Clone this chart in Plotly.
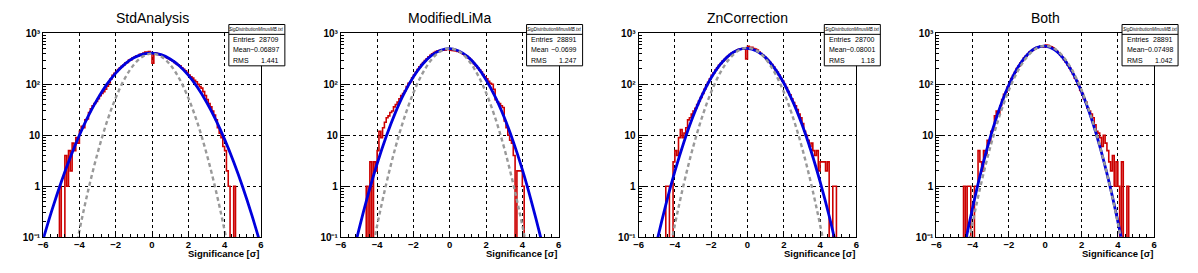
import numpy as np
import plotly.graph_objects as go

# ---------------- data ----------------
titles = ["StdAnalysis", "ModifiedLiMa", "ZnCorrection", "Both"]
stats_name = "SigDistributionMinusMB.txt"
entries = ["28709", "28891", "28700", "28891"]
means = ["\u22120.06897", "\u22120.0699", "\u22120.08001", "\u22120.07498"]
rms = ["1.441", "1.247", "1.18", "1.042"]

bin_lo, bin_hi, n_bins = -6.0, 6.0, 120

counts_std = [0, 0, 0, 0, 0, 0, 0, 0, 0, 1, 0, 0, 4, 1, 5, 2, 7, 5, 9, 7,
              12, 15, 14, 20, 21, 28, 33, 38, 42, 46, 52, 60, 66, 72, 80, 92, 108, 128, 150, 165,
              178, 196, 210, 225, 238, 262, 270, 298, 305, 330, 340, 360, 362, 390, 395, 410, 430, 425, 440, 420,
              260, 415, 405, 398, 380, 372, 360, 348, 330, 318, 300, 290, 268, 255, 242, 230, 212, 198, 185, 170,
              152, 140, 132, 120, 112, 100, 90, 84, 72, 60, 50, 42, 36, 30, 25, 20, 14, 11, 9, 6,
              5, 2, 1, 0, 0, 1, 0, 0, 0, 0, 0, 0, 0, 0, 0, 0, 0, 0, 0, 0]
counts_lima = [0, 0, 0, 0, 0, 0, 0, 0, 0, 0, 0, 0, 0, 0, 1, 0, 3, 0, 3, 2,
               5, 12, 9, 14, 18, 22, 24, 28, 30, 36, 40, 45, 52, 60, 66, 75, 90, 105, 112, 135,
               152, 172, 196, 220, 245, 268, 292, 318, 345, 372, 396, 420, 438, 455, 462, 470, 478, 470, 482, 485,
               470, 462, 455, 450, 440, 425, 410, 392, 372, 350, 330, 305, 280, 255, 232, 212, 192, 175, 155, 140,
               128, 115, 105, 100, 80, 50, 45, 42, 38, 35, 19, 14, 10, 8, 7, 4, 0, 2, 2, 2,
               1, 0, 0, 0, 0, 0, 0, 0, 0, 0, 0, 0, 0, 0, 0, 0, 0, 0, 0, 0]
counts_zn = [0, 0, 0, 0, 0, 0, 0, 0, 0, 0, 0, 0, 0, 0, 0, 1, 1, 0, 0, 3,
             5, 4, 9, 13, 9, 11, 14, 20, 22, 26, 30, 34, 40, 47, 55, 66, 80, 95, 110, 128,
             150, 168, 190, 210, 235, 256, 285, 305, 335, 360, 385, 410, 432, 450, 470, 488, 495, 502, 512, 316,
             560, 535, 530, 505, 495, 470, 430, 400, 372, 345, 320, 292, 268, 244, 220, 193, 175, 152, 130, 116,
             100, 86, 72, 62, 52, 44, 38, 32, 26, 22, 17, 12, 10, 8, 6, 7, 5, 4, 5, 2,
             3, 3, 3, 2, 3, 0, 0, 1, 1, 0, 0, 0, 0, 0, 0, 0, 0, 0, 0, 0]
counts_both = [0, 0, 0, 0, 0, 0, 0, 0, 0, 0, 0, 0, 0, 0, 0, 1, 0, 1, 1, 0,
               0, 1, 1, 5, 3, 2, 5, 4, 8, 7, 12, 13, 24, 30, 26, 38, 50, 64, 70, 88,
               105, 130, 148, 172, 205, 228, 262, 290, 330, 358, 390, 430, 452, 480, 505, 525, 540, 555, 558, 540,
               590, 585, 560, 545, 520, 480, 445, 410, 372, 340, 305, 272, 240, 210, 186, 158, 132, 116, 95, 76,
               66, 52, 45, 34, 30, 26, 22, 16, 12, 11, 9, 6, 10, 7, 5, 3, 2, 4, 1, 3,
               1, 0, 3, 0, 0, 1, 0, 0, 0, 0, 0, 0, 0, 0, 0, 0, 0, 0, 0, 0]

# fitted curve (blue), sampled every 0.5 along x
fit_x = [-6.0, -5.5, -5.0, -4.5, -4.0, -3.5, -3.0, -2.5, -2.0, -1.5, -1.0, -0.5, 0.0,
         0.5, 1.0, 1.5, 2.0, 2.5, 3.0, 3.5, 4.0, 4.5, 5.0, 5.5, 6.0]
fit_std = [0.0904, 0.351, 1.21, 3.69, 10.0, 24.2, 51.7, 98.4, 166, 249, 331, 391, 410,
           382, 315, 232, 151, 87.4, 44.9, 20.5, 8.29, 2.98, 0.952, 0.270, 0.068]
fit_lima = [0.0037, 0.025, 0.142, 0.68, 2.76, 9.47, 27.5, 67.7, 141, 248, 370, 467, 500,
            452, 346, 224, 123, 57.2, 22.5, 7.49, 2.11, 0.50, 0.102, 0.017, 0.002]
fit_zn = [0.0016, 0.012, 0.079, 0.43, 1.95, 7.37, 23.3, 61.2, 134, 246, 375, 478, 509,
          451, 334, 206, 106, 45.8, 16.4, 4.91, 1.23, 0.26, 0.044, 0.006, 0.0007]
fit_both = [0.00003, 0.0005, 0.0056, 0.052, 0.376, 2.16, 9.77, 34.8, 97.7, 216, 378, 520, 563,
            481, 324, 172, 72.1, 23.8, 6.19, 1.27, 0.204, 0.026, 0.002, 0.0001, 0.00001]

# reference normal curve (gray dashed)
ref_x = [-5.0, -4.5, -4.0, -3.5, -3.0, -2.5, -2.0, -1.5, -1.0, -0.5, 0.0,
         0.5, 1.0, 1.5, 2.0, 2.5, 3.0, 3.5, 4.0, 4.5, 5.0]
ref_std = [0.0015, 0.016, 0.134, 0.875, 4.44, 17.6, 54.1, 130, 243, 353, 400,
           353, 243, 130, 54.1, 17.6, 4.44, 0.875, 0.134, 0.016, 0.0015]
ref_lima = [0.0019, 0.0203, 0.169, 1.10, 5.61, 22.2, 68.3, 164, 306, 446, 505,
            446, 306, 164, 68.3, 22.2, 5.61, 1.10, 0.169, 0.0203, 0.0019]
ref_zn = [0.0019, 0.0209, 0.174, 1.14, 5.78, 22.8, 70.4, 169, 315, 459, 520,
          459, 315, 169, 70.4, 22.8, 5.78, 1.14, 0.174, 0.0209, 0.0019]
ref_both = [0.0021, 0.0229, 0.191, 1.25, 6.33, 25.0, 77.1, 185, 346, 503, 570,
            503, 346, 185, 77.1, 25.0, 6.33, 1.25, 0.191, 0.0229, 0.0021]

x_tickvals = [-6, -4, -2, 0, 2, 4, 6]
x_ticktext = ["\u22126", "\u22124", "\u22122", "0", "2", "4", "6"]
y_tickvals = [0.1, 1, 10, 100, 1000]
y_ticktext = ["10\u207b\u00b9", "1", "10", "10\u00b2", "10\u00b3"]
x_title = "Significance [\u03c3]"

hists = [counts_std, counts_lima, counts_zn, counts_both]
fits = [fit_std, fit_lima, fit_zn, fit_both]
refs = [ref_std, ref_lima, ref_zn, ref_both]

# ---------------- layout geometry (pixels of the 1198x273 page) ----------------
W, H = 1198, 273
OFF = 8  # default page margin around the plot div
FW, FH = W - OFF, H - OFF
PANEL_W = 299.75
FRAME_L, FRAME_W = 38.3, 219.3
FRAME_T, FRAME_B = 28.3, 241.7

FONT = "Liberation Sans"
RED, BLUE, GRAY = "#cc0000", "#0000dd", "#999999"


def px(x):
    return (x - OFF) / FW


def py(y):
    return 1 - (y - OFF) / FH


edges = np.linspace(bin_lo, bin_hi, n_bins + 1)
minor_y = [m * 10.0 ** e for e in range(-1, 3) for m in range(2, 10)]

fig = go.Figure()
shapes, annotations = [], []

for i in range(4):
    ax = "" if i == 0 else str(i + 1)
    xref, yref = "x" + ax, "y" + ax
    c = np.array(hists[i], dtype=float)
    c_draw = np.where(c > 0, c, 1e-4)
    fig.add_trace(go.Scatter(
        x=edges, y=np.append(c_draw, c_draw[-1]), mode="lines",
        line=dict(color=RED, width=1.6, shape="hv"),
        xaxis=xref, yaxis=yref, hoverinfo="skip"))
    fig.add_trace(go.Scatter(
        x=fit_x, y=fits[i], mode="lines",
        line=dict(color=BLUE, width=2.8, shape="spline", smoothing=1.0),
        xaxis=xref, yaxis=yref, hoverinfo="skip"))
    fig.add_trace(go.Scatter(
        x=ref_x, y=refs[i], mode="lines",
        line=dict(color=GRAY, width=2.4, dash="4px,3px", shape="spline", smoothing=1.0),
        xaxis=xref, yaxis=yref, hoverinfo="skip"))

    left = FRAME_L + PANEL_W * i
    right = left + FRAME_W
    fig.layout["xaxis" + ax] = dict(
        domain=[px(left), px(right)], anchor=yref, range=[-6, 6],
        tickmode="array", tickvals=x_tickvals, ticktext=x_ticktext,
        ticks="inside", ticklen=6, tickwidth=1, tickcolor="black",
        ticklabelstandoff=-2,
        minor=dict(ticks="inside", ticklen=3, tickwidth=1, tickcolor="black",
                   tickmode="linear", tick0=0, dtick=0.4, showgrid=False),
        showline=True, linecolor="black", linewidth=1, mirror=True,
        showgrid=True, gridcolor="black", griddash="dot", gridwidth=1,
        zeroline=False, tickfont=dict(family=FONT, size=9.5, color="black", weight="bold"),
    )
    fig.layout["yaxis" + ax] = dict(
        domain=[py(FRAME_B), py(FRAME_T)], anchor=xref, type="log", range=[-1, 3],
        tickmode="array", tickvals=y_tickvals, ticktext=y_ticktext,
        ticks="inside", ticklen=6, tickwidth=1, tickcolor="black",
        minor=dict(ticks="inside", ticklen=3, tickwidth=1, tickcolor="black",
                   tickmode="array", tickvals=minor_y, showgrid=False),
        showline=True, linecolor="black", linewidth=1, mirror=True,
        showgrid=True, gridcolor="black", griddash="dot", gridwidth=1,
        zeroline=False, tickfont=dict(family=FONT, size=10, color="black", weight="bold"),
    )

    # title
    annotations.append(dict(text=titles[i], x=px((left + right) / 2), y=py(12.5),
                            xref="paper", yref="paper", showarrow=False,
                            xanchor="center", yanchor="middle",
                            font=dict(family=FONT, size=14, color="black")))
    # x-axis title
    annotations.append(dict(text=x_title, x=px(right + 0.5), y=py(259),
                            xref="paper", yref="paper", showarrow=False,
                            xanchor="right", yanchor="middle",
                            font=dict(family=FONT, size=9.5, color="black", weight="bold")))

    # stats box
    bx0 = 225.3 + PANEL_W * i
    bx1 = 281.7 + PANEL_W * i
    by0, by1, bsep = 19.0, 62.3, 29.3
    shapes.append(dict(type="rect", xref="paper", yref="paper",
                       x0=px(bx0), x1=px(bx1), y0=py(by1), y1=py(by0),
                       line=dict(color="black", width=1), fillcolor="white", layer="above"))
    shapes.append(dict(type="line", xref="paper", yref="paper",
                       x0=px(bx0), x1=px(bx1), y0=py(bsep), y1=py(bsep),
                       line=dict(color="black", width=1), layer="above"))
    annotations.append(dict(text=stats_name, x=px((bx0 + bx1) / 2), y=py(24.2),
                            xref="paper", yref="paper", showarrow=False,
                            xanchor="center", yanchor="middle",
                            font=dict(family=FONT, size=4.5, color="black", style="italic")))
    for lab, val, yy in (("Entries", entries[i], 35.0), ("Mean", means[i], 45.7), ("RMS", rms[i], 56.6)):
        annotations.append(dict(text=lab, x=px(bx0 + 2.5), y=py(yy), xref="paper", yref="paper",
                                showarrow=False, xanchor="left", yanchor="middle",
                                font=dict(family=FONT, size=7, color="black")))
        annotations.append(dict(text=val, x=px(bx1 - 3.5), y=py(yy), xref="paper", yref="paper",
                                showarrow=False, xanchor="right", yanchor="middle",
                                font=dict(family=FONT, size=7, color="black")))

fig.update_layout(
    width=FW, height=FH, margin=dict(l=0, r=0, t=0, b=0),
    paper_bgcolor="white", plot_bgcolor="white", showlegend=False,
    shapes=shapes, annotations=annotations,
    font=dict(family=FONT, color="black"),
)

fig.write_html("out.html")
